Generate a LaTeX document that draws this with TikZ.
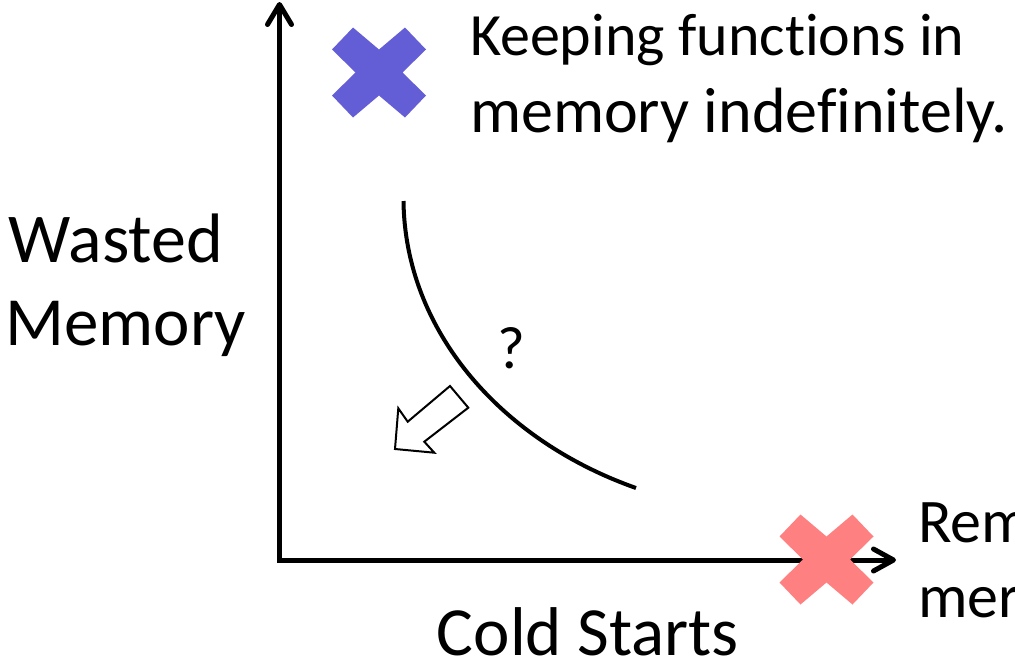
\documentclass[tikz,border=0pt]{standalone}
\usepackage{fontspec}
\setmainfont{Carlito}[Ligatures={NoCommon}]
\usetikzlibrary{arrows.meta}
\definecolor{xblue}{RGB}{99,94,214}
\definecolor{xred}{RGB}{255,128,128}
\begin{document}
\begin{tikzpicture}[x=1pt,y=-1pt,
  lbl/.style={inner sep=0pt, outer sep=0pt, anchor=base west, font=\fontsize{62}{77}\selectfont},
  axislbl/.style={inner sep=0pt, outer sep=0pt, anchor=base, font=\fontsize{70}{84}\selectfont},
  axis/.style={line width=5pt, miter limit=10,
    {Straight Barb[length=20pt,width=24pt,line cap=round,line join=round]}-{Straight Barb[length=20pt,width=22pt,line cap=round,line join=round]}},
  tradeoff/.style={line width=4pt},
  hollow/.style={line width=2pt, fill=white, line join=miter},
  xcross/.pic={\fill (-47,-23) -- (-26,-45) -- (0,-23) -- (26,-45) -- (47,-23) -- (23.5,0) -- (47,23) -- (26,45) -- (0,23) -- (-26,45) -- (-47,23) -- (-23.5,0) -- cycle;}
]
\useasboundingbox (0,0) rectangle (1015,670);
\clip (0,0) rectangle (1015,670);
% axes
\coordinate (ytop) at (279.5,2);
\coordinate (o) at (279.5,560);
\coordinate (xend) at (896,560);
\draw[axis] (ytop) -- (o) -- (xend);
% crosses
\pic[fill=xblue] at (379,72.5) {xcross};
\pic[fill=xred] at (826.5,559.5) {xcross};
% curve
\coordinate (c0) at (403.5,201);
\coordinate (c1) at (405,330);
\coordinate (c2) at (500,440);
\coordinate (c3) at (636,488);
\draw[tradeoff] (c0) .. controls (c1) and (c2) .. (c3);
% hollow arrow
\draw[hollow] (395,449) -- (398.3,408.3) -- (407.7,421.7) -- (450,386) -- (468.3,407.7) -- (424.3,441.7) -- (434.3,452.7) -- cycle;
% labels
\node[lbl, font=\fontsize{60}{77}\selectfont] (k1) at (470,55) {Keeping functions in};
\node[lbl, font=\fontsize{64}{77}\selectfont] (k2) at (470,132) {memory indefinitely.};
\node[lbl] (r1) at (918,542) {Rem};
\node[lbl] (r2) at (918,617) {mer};
\node[axislbl] (w1) at (116,262) {Wasted};
\node[axislbl, font=\fontsize{69}{84}\selectfont] (w2) at (125.5,345) {Memory};
\node[inner sep=0pt, anchor=base, font=\fontsize{69}{80}\selectfont] (cs) at (588,655) {Cold Starts};
\node[inner sep=0pt, anchor=base, font=\fontsize{60}{70}\selectfont] (q) at (511,368) {?};
\end{tikzpicture}
\end{document}
